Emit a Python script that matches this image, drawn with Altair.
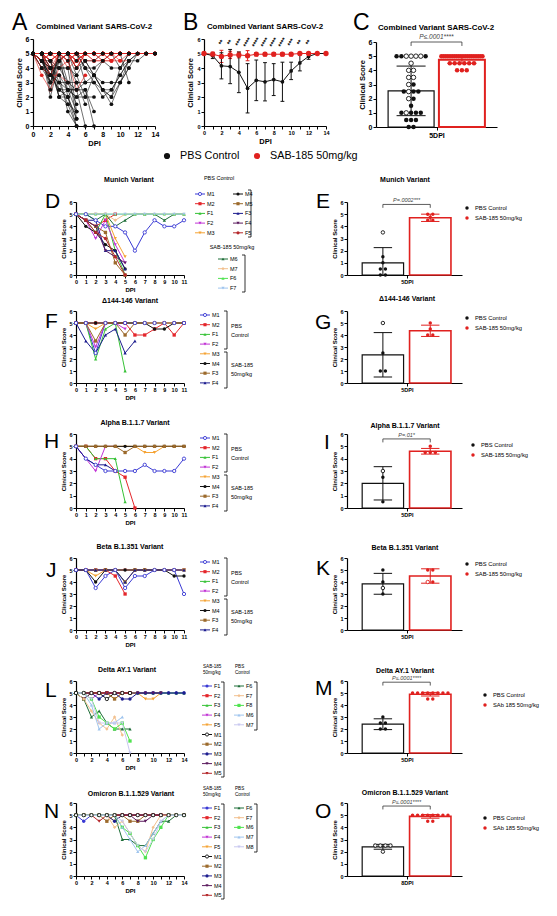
import altair as alt
import pandas as pd
from collections import Counter, defaultdict

FONT = "Liberation Sans"
W, H = 541, 900

# ---------------- colours ----------------
INK = "#111111"; RED_BAR = "#e0211f"
BLUE = "#3a3ad4"; RED = "#e4262b"; GREEN = "#36c236"; MAGENTA = "#c234d6"; ORANGE = "#f5a334"
BROWN = "#9c6a2c"; NAVY = "#1d1d8f"; DPURPLE = "#5b1b5e"; DRED = "#b5282c"
DGREEN = "#1e6e38"; TAN = "#f2c08e"; LGREEN = "#50e350"; LBLUE = "#9fc5ee"; LAVENDER = "#c8c8f0"

# ---------------- panel B: mean / SD per DPI ----------------
B_PBS_MEAN = [5, 4.85, 4.15, 4.1, 3.7, 2.6, 3.15, 3.05, 3.2, 3.05, 3.8, 4.35, 4.8, 5, 5]
B_PBS_SD = [0, 0.2, 0.9, 1.18, 1.4, 1.7, 1.4, 1.32, 1.1, 1.35, 0.6, 0.55, 0.2, 0, 0]
B_SAB_MEAN = [5, 4.95, 4.8, 4.9, 4.9, 4.85, 4.95, 4.95, 4.95, 4.95, 4.95, 5, 5, 5, 5]
B_SAB_SD = [0, 0.15, 0.42, 0.25, 0.2, 0.35, 0.12, 0.12, 0.12, 0.12, 0.12, 0, 0, 0, 0]
B_STAR_DPI = [2, 3, 4, 5, 6, 7, 8, 9, 10, 11, 12]
B_STARS = ["**", "**", "***", "****", "****", "****", "****", "****", "***", "**", "**"]

# ---------------- individual mice (clinical score per DPI) ----------------
MUNICH = {
    "M1": [5, 5, 4.5, 4, 4, 3.5, 2, 3.5, 4.5, 4, 4, 4.5],
    "M2": [5, 4.5, 4, 4.5, 5],
    "F1": [5, 4.5, 3.5, 5, 2, 0],
    "F2": [5, 4.5, 3, 4.5, 2.5, 1],
    "M3": [5, 5, 5, 5, 3, 1.5],
    "M4": [5, 4, 3.5, 2.5, 2, 0.5],
    "M5": [5, 4.5, 4, 3.5, 1, 0],
    "F3": [5, 4.5, 4.5, 2, 2, 0.5],
    "F4": [5, 4.5, 4, 2, 1.5, 1],
    "F5": [5, 4.5, 3.5, 3, 1.5, 0],
    "M6": [5, 5, 4.5, 5, 4, 4.5, 5, 5, 5, 4.5, 5, 5],
    "M7": [5, 5, 5, 5, 4.5, 5, 5, 5, 5, 5, 5, 5],
    "F6": [5, 5, 5, 5, 5, 5, 5, 5, 5, 5, 5, 5],
    "F7": [5, 5, 5, 5, 5, 5, 5, 5, 5, 5, 5, 5],
}
D144 = {
    "M1": [5, 5, 2.5, 5, 5, 5, 5, 5, 5, 5, 5, 5],
    "M2": [5, 5, 5, 5, 5, 5, 4, 4, 4.5, 5, 4, 5],
    "F1": [5, 5, 2, 4.5, 5, 1],
    "F2": [5, 5, 3, 5, 5, 4.5],
    "M3": [5, 5, 4.5, 5, 5, 5, 5, 5, 5, 5, 5, 5],
    "M4": [5, 5, 5, 5, 5, 5, 5, 5, 4.5, 4.5, 5, 5],
    "F3": [5, 5, 3.5, 5, 5, 4, 5, 5, 5, 5, 5, 5],
    "F4": [5, 3.5, 2.5, 4, 4.5, 2.5, 3.5],
}
ALPHA = {
    "M1": [5, 4, 3.5, 3, 3, 3, 3, 3.5, 3, 3, 3, 4],
    "M2": [5, 5, 4, 4, 3, 2.5, 0],
    "F1": [5, 5, 4, 4, 4, 0.5],
    "F2": [5, 4, 3, 5, 5],
    "M3": [5, 5, 5, 5, 5, 5, 5, 4.5, 4.5, 5, 5, 5],
    "M4": [5, 5, 5, 5, 5, 5, 5, 5, 5, 5, 5, 5],
    "F3": [5, 5, 5, 5, 5, 4.5, 5, 5, 5, 5, 5, 5],
    "F4": [5, 4, 3.5, 3.5, 3],
}
BETA = {
    "M1": [5, 5, 3.5, 4.5, 5, 3.5, 4.5, 4.5, 5, 5, 5, 3],
    "M2": [5, 5, 5, 5, 4.5, 3],
    "F1": [5, 5, 5, 5, 5, 4],
    "F2": [5, 5, 5, 5, 5, 5, 5, 5, 5, 5, 5, 5],
    "M3": [5, 5, 4.5, 5, 5, 5, 5, 5, 5, 5, 5, 5],
    "M4": [5, 5, 4, 5, 5, 5, 5, 5, 5, 5, 4.5, 4.5],
    "F3": [5, 5, 5, 5, 5, 4, 5, 5, 5, 5, 5, 5],
    "F4": [5, 5, 5, 5, 5, 4, 5, 5, 5, 5, 5, 5],
}
DELTA = {
    "F1": [5, 5, 5, 5, 5, 5, 5, 5, 5, 5, 5, 5, 5, 5, 5],
    "F2": [5, 5, 5, 5, 5, 5, 5, 5],
    "F3": [5, 5, 5, 5, 5, 5, 5, 5, 5, 5, 5, 5, 5, 5, 5],
    "F4": [5, 5, 4.5, 5, 5, 5, 5, 5],
    "F5": [5, 5, 5, 5, 5, 4.5, 5, 5, 5, 4.5, 4.5, 5],
    "M1": [5, 5, 5, 5, 4.5, 5, 5, 5],
    "M2": [5, 4.5, 5, 5, 5, 4.5, 5, 5],
    "M3": [5, 5, 5, 4.5, 5, 5, 4.5, 4.5, 5, 5, 5, 5, 5, 5, 5],
    "M4": [5, 4.5, 5, 5, 5, 5, 5, 5, 5, 5, 5, 5],
    "M5": [5, 5, 5, 5, 5, 5, 5, 5],
    "F6": [5, 4.5, 3, 3.5, 2.5, 2, 2, 2],
    "F7": [5, 4.5, 3.5, 2.5, 2, 3, 1.5],
    "F8": [5, 5, 4.5, 3, 2.5, 2, 2.5, 1],
    "M6": [5, 5, 4, 2, 2.5, 2.5, 3],
    "M7": [5, 5, 4.5, 2.5, 2.5, 2.5, 2.5, 0],
}
OMICRON = {
    "F1": [5, 4.5, 5, 5, 5, 5, 5, 5, 5, 5, 5, 5, 5, 5, 5],
    "F2": [5, 5, 5, 5, 5, 5, 5, 5, 5, 5, 5, 5, 5, 5, 5],
    "F3": [5, 5, 5, 5, 5, 5, 5, 5, 5, 5, 5, 5, 5, 5, 5],
    "F4": [5, 5, 5, 5, 5, 5, 5, 5, 5, 5, 5, 5, 5, 5, 5],
    "F5": [5, 5, 5, 5, 5, 4.5, 5, 5, 5, 5, 5, 5, 5, 5, 5],
    "M1": [5, 5, 5, 5, 5, 5, 5, 5, 5, 5, 5, 5, 5, 5, 5],
    "M2": [5, 5, 5, 5, 4.5, 5, 5, 4.5, 4.5, 5, 5, 5, 5, 5, 5],
    "M3": [5, 5, 5, 5, 5, 4.5, 5, 5, 5, 5, 5, 5, 5, 5, 5],
    "M4": [5, 5, 5, 5, 5, 5, 5, 5, 4.5, 4.5, 5, 5, 5, 5, 5],
    "M5": [5, 5, 5, 4.5, 5, 5, 5, 5, 5, 5, 5, 5, 5, 5, 5],
    "F6": [5, 5, 5, 5, 5, 5, 3, 3, 2.5, 2.5, 3.5, 4.5, 4.5, 5, 5],
    "F7": [5, 5, 5, 5, 5, 4, 4.5, 3.5, 2.5, 2, 4, 5, 5, 5, 5],
    "M6": [5, 5, 5, 5, 5, 5, 4, 3.5, 2.5, 1.5, 3, 4, 5, 5, 5],
    "M7": [5, 5, 5, 5, 5, 5, 4, 3, 2, 2.5, 3.5, 4.5, 5, 5, 5],
    "M8": [5, 5, 5, 5, 5, 5, 4.5, 3.5, 2.5, 2, 3, 4.5, 5, 5, 5],
}

# group membership
D_PBS = ["M1", "M2", "F1", "F2", "M3", "M4", "M5", "F3", "F4", "F5"]
D_SAB = ["M6", "M7", "F6", "F7"]
FHJ_PBS = ["M1", "M2", "F1", "F2"]
FHJ_SAB = ["M3", "M4", "F3", "F4"]
L_SAB = ["F1", "F2", "F3", "F4", "F5", "M1", "M2", "M3", "M4", "M5"]
L_PBS = ["F6", "F7", "F8", "M6", "M7"]
N_PBS = ["F6", "F7", "M6", "M7", "M8"]

# legend styling per panel
D_COLORS = [BLUE, RED, GREEN, MAGENTA, ORANGE, INK, BROWN, NAVY, DPURPLE, DRED, DGREEN, TAN, LGREEN, LBLUE]
D_SHAPES = ["circle", "square", "triangle-up", "triangle-down", "triangle-down", "circle", "square",
            "triangle-up", "triangle-down", "circle", "triangle-up", "diamond", "triangle-up", "triangle-down"]
FHJ_COLORS = [BLUE, RED, GREEN, MAGENTA, ORANGE, INK, BROWN, NAVY]
FHJ_SHAPES = ["circle", "square", "triangle-up", "triangle-down", "triangle-down", "circle", "square", "triangle-up"]
LN_COLORS = [BLUE, RED, GREEN, MAGENTA, ORANGE, INK, BROWN, NAVY, DPURPLE, DRED, DGREEN, TAN, LGREEN, LBLUE, LAVENDER]
LN_SHAPES = ["circle", "square", "triangle-up", "triangle-down", "triangle-down", "circle", "square", "circle",
             "triangle-down", "triangle-down", "triangle-up", "diamond", "square", "triangle-up", "triangle-down"]
OPEN_MICE = ["M1"]

# ---------------- bar panels (score at one DPI) ----------------
C_PBS = [5, 5, 5, 5, 5, 5, 5, 4.5, 4, 4, 3.5, 3.5, 3, 3, 2.5, 2.5, 2.5, 2.5, 2, 2, 1.5, 1, 1, 1, 1, 1, 0.5, 0.5, 0.5, 0, 0]
C_PBS_OPEN = [0, 0, 1, 1, 1, 1, 0, 1, 1, 1, 1, 1, 1, 0, 0, 1, 0, 0, 1, 0, 0, 0, 1, 0, 0, 0, 0, 0, 0, 0, 0]
C_SAB = [5] * 20 + [4.5] * 6 + [4] * 3
C_MEAN = [2.55, 4.75]; C_SD = [1.75, 0.25]

E_PBS = [3.5, 1.5, 1, 0.5, 0.5, 0, 0]; E_PBS_OPEN = [1, 0, 0, 0, 0, 0, 0]
E_SAB = [5, 5, 4.75, 4.5, 4.5]; E_MEAN = [1.0, 4.7]; E_SD = [1.25, 0.3]
G_PBS = [5, 2.5, 1, 1]; G_PBS_OPEN = [1, 0, 0, 0]
G_SAB = [5, 4.5, 4, 4]; G_MEAN = [2.35, 4.35]; G_SD = [1.85, 0.47]
I_PBS = [3, 2.5, 0.5]; I_PBS_OPEN = [1, 0, 0]
I_SAB = [5, 4.5, 4.5, 4.5]; I_MEAN = [2.0, 4.6]; I_SD = [1.35, 0.23]
K_PBS = [5, 4, 3.5, 3]; K_PBS_OPEN = [0, 0, 1, 0]
K_SAB = [5, 5, 4, 4]; K_MEAN = [3.85, 4.5]; K_SD = [0.87, 0.6]
M_PBS = [3, 2.5, 2.5, 2, 2]; M_PBS_OPEN = [0, 0, 0, 0, 0]
M_SAB = [5] * 8 + [4.5] * 2; M_MEAN = [2.4, 4.9]; M_SD = [0.45, 0.15]
O_PBS = [2.5, 2.5, 2.5, 2.5, 2]; O_PBS_OPEN = [1, 1, 1, 1, 1]
O_SAB = [5] * 8 + [4.5] * 2; O_MEAN = [2.4, 4.9]; O_SD = [0.2, 0.15]

LABELS_A = ["PBS Control", "SAB-185 50mg/kg"]
LABELS_B = ["PBS Control", "SAb 185 50mg/kg"]


# ---------------- layout helpers (page pixel -> canvas pixel) ----------------
def cx(px):
    return px - 8


def cy(py):
    return py - 8


def y_axis(box, lab, tit):
    return alt.Axis(orient="left", offset=-cx(box[0]), values=[0, 1, 2, 3, 4, 5, 6], title="Clinical Score",
                    labelFontSize=lab, titleFontSize=tit, labelFontWeight="bold", titleFontWeight="bold",
                    labelFont=FONT, titleFont=FONT, domainWidth=1.2, domainColor="black", tickColor="black",
                    tickSize=3, tickWidth=1, labelPadding=1, titlePadding=2, grid=False, labelColor="black",
                    titleColor="black", labelFlush=False, labelOverlap=False)


def x_axis(box, values, expr, ttl, lab, tit):
    kw = dict(orient="bottom", offset=-(H - cy(box[3])), values=values, labelExpr=expr, labelFontSize=lab,
              labelFontWeight="bold", labelFont=FONT, domainWidth=1.2, domainColor="black", tickColor="black",
              tickSize=3, tickWidth=1, labelPadding=1, grid=False, labelColor="black", labelAngle=0,
              labelFlush=False, labelOverlap=False)
    if ttl:
        kw.update(title=ttl, titleFontSize=tit, titleFontWeight="bold", titleFont=FONT, titlePadding=2,
                  titleColor="black")
    else:
        kw.update(title=None)
    return alt.Axis(**kw)


def note(txt, px, py, fs, weight="normal", align="left", baseline="alphabetic"):
    return alt.Chart(alt.Data(values=[{"a": 1}])).mark_text(
        text=txt, align=align, baseline=baseline, fontSize=fs, font=FONT, fontWeight=weight, color="black"
    ).encode(x=alt.value(cx(px)), y=alt.value(cy(py)))


def swarm(vals, center, step_max=0.11, maxw=0.8):
    cnt = Counter(vals); seen = defaultdict(int); out = []
    for v in vals:
        n = cnt[v]; k = seen[v]; seen[v] += 1
        step = min(step_max, maxw / max(n - 1, 1))
        out.append(center + (k - (n - 1) / 2) * step)
    return out


PIX_X = alt.Scale(domain=[0, W], range=[0, W], nice=False, zero=False)
PIX_Y = alt.Scale(domain=[0, H], range=[0, H], nice=False, zero=False)


def PX(f):
    return alt.X(f"{f}:Q", scale=PIX_X, axis=None)


def PY(f):
    return alt.Y(f"{f}:Q", scale=PIX_Y, axis=None)


def line_panel(key, series, colors, shapes, xmax, every, box):
    order = list(series.keys())
    fld = f"mouse{key}"
    rows = []
    for nm in order:
        for d, v in enumerate(series[nm]):
            rows.append({"dpi": d, "score": v, fld: nm, "op": nm in OPEN_MICE})
    df = pd.DataFrame(rows)
    XS = alt.Scale(domain=[0, xmax], range=[cx(box[0]), cx(box[1])], nice=False, zero=False)
    YS = alt.Scale(domain=[0, 6], range=[cy(box[3]), cy(box[2])], nice=False, zero=False)
    X = alt.X("dpi:Q", scale=XS,
              axis=x_axis(box, list(range(xmax + 1)), f"datum.value % {every} == 0 ? datum.label : ''", "DPI", 5.5, 6))
    Y = alt.Y("score:Q", scale=YS, axis=y_axis(box, 5.5, 6))
    C = alt.Color(f"{fld}:N", scale=alt.Scale(domain=order, range=colors), legend=None)
    S = alt.Shape(f"{fld}:N", scale=alt.Scale(domain=order, range=shapes), legend=None)
    base = alt.Chart(df)
    lines = base.mark_line(strokeWidth=1).encode(X, Y, C, order="dpi:Q")
    pf = base.transform_filter("!datum.op").mark_point(filled=True, size=11, opacity=1).encode(X, Y, C, S)
    po = base.transform_filter("datum.op").mark_point(filled=False, fill="white", size=11, strokeWidth=0.9,
                                                      opacity=1).encode(X, Y, C, S)
    return alt.layer(lines, pf, po)


def legend_panel(key, order, colors, shapes, ox, oy, entries, brackets, labels, lfs=5.5, hfs=5.5):
    fld = f"leg{key}"
    df = pd.DataFrame([{fld: n, "sx": cx(ox + sx), "tx": cx(ox + tx), "y": cy(oy + y),
                        "x0": cx(ox + sx - 5), "x1": cx(ox + sx + 5), "op": n in OPEN_MICE}
                       for n, sx, tx, y in entries])
    C = alt.Color(f"{fld}:N", scale=alt.Scale(domain=order, range=colors), legend=None)
    S = alt.Shape(f"{fld}:N", scale=alt.Scale(domain=order, range=shapes), legend=None)
    base = alt.Chart(df)
    seg = base.mark_rule(strokeWidth=1).encode(x=PX("x0"), x2="x1:Q", y=PY("y"), color=C)
    pf = base.transform_filter("!datum.op").mark_point(filled=True, size=10, opacity=1).encode(
        x=PX("sx"), y=PY("y"), color=C, shape=S)
    po = base.transform_filter("datum.op").mark_point(filled=False, fill="white", size=10, strokeWidth=0.9,
                                                      opacity=1).encode(x=PX("sx"), y=PY("y"), color=C, shape=S)
    txt = base.mark_text(align="left", baseline="middle", fontSize=lfs, font=FONT, color="black").encode(
        x=PX("tx"), y=PY("y"), text=f"{fld}:N")
    segs = []
    for bx, y0, y1 in brackets:
        segs.append({"bx0": cx(ox + bx), "bx1": cx(ox + bx), "by0": cy(oy + y0), "by1": cy(oy + y1)})
        segs.append({"bx0": cx(ox + bx - 3), "bx1": cx(ox + bx), "by0": cy(oy + y0), "by1": cy(oy + y0)})
        segs.append({"bx0": cx(ox + bx - 3), "bx1": cx(ox + bx), "by0": cy(oy + y1), "by1": cy(oy + y1)})
    br = alt.Chart(pd.DataFrame(segs)).mark_rule(color="black", strokeWidth=0.8).encode(
        x=PX("bx0"), x2="bx1:Q", y=PY("by0"), y2="by1:Q")
    lab_df = pd.DataFrame([{"t": t, "lx": cx(ox + x), "ly": cy(oy + y), "al": a} for t, x, y, a in labels])
    labs_left = alt.Chart(lab_df).transform_filter("datum.al == 'left'").mark_text(
        align="left", baseline="middle", fontSize=hfs, font=FONT, color="black").encode(
        x=PX("lx"), y=PY("ly"), text="t:N")
    labs_mid = alt.Chart(lab_df).transform_filter("datum.al == 'center'").mark_text(
        align="center", baseline="middle", fontSize=hfs, font=FONT, color="black").encode(
        x=PX("lx"), y=PY("ly"), text="t:N")
    return alt.layer(seg, pf, po, txt, br, labs_left, labs_mid)


def group_legend(key, labels, px, py, dy, tdx, fs, size, horizontal=False, gap=0):
    """Black / red dot legend drawn as marks (dot centre at page px, py)."""
    fld = f"gl{key}"
    rows = []
    for i, lb in enumerate(labels):
        if horizontal:
            sx = px + i * gap; sy = py
        else:
            sx = px; sy = py + i * dy
        rows.append({fld: lb, "sx": cx(sx), "sy": cy(sy), "tx": cx(sx + tdx)})
    df = pd.DataFrame(rows)
    C = alt.Color(f"{fld}:N", scale=alt.Scale(domain=labels, range=[INK, RED_BAR]), legend=None)
    dots = alt.Chart(df).mark_circle(size=size, opacity=1).encode(x=PX("sx"), y=PY("sy"), color=C)
    txt = alt.Chart(df).mark_text(align="left", baseline="middle", fontSize=fs, font=FONT, color="black").encode(
        x=PX("tx"), y=PY("sy"), text=f"{fld}:N")
    return alt.layer(dots, txt)


def bar_panel(key, pbs, pbs_open, sab, sab_open, mean, sd, pval, brk_y, dpi_label, labels, box,
              centers=(0.78, 1.81), hw=0.45, tick=1.3, cap=0.2,
              psize=12, lab=5.5, tit=6, pfs=5.5, sw=(1.2, 1.6), step=0.11):
    g = f"grp{key}"
    GS = alt.Scale(domain=labels, range=[INK, RED_BAR])
    XS = alt.Scale(domain=[0, 2.5], range=[cx(box[0]), cx(box[1])], nice=False, zero=False)
    YS = alt.Scale(domain=[0, 6], range=[cy(box[3]), cy(box[2])], nice=False, zero=False)
    XA = x_axis(box, [tick], f"'{dpi_label}'", None, lab, tit)
    YA = y_axis(box, lab, tit)

    def X(f):
        return alt.X(f"{f}:Q", scale=XS, axis=XA)

    def Y(f):
        return alt.Y(f"{f}:Q", scale=YS, axis=YA)

    stroke = alt.Stroke(f"{g}:N", scale=GS, legend=None)
    bars = pd.DataFrame({g: labels, "x0": [c - hw for c in centers], "x1": [c + hw for c in centers],
                         "mean": mean, "base": [0, 0]})
    err = pd.DataFrame({g: labels, "xc": list(centers), "lo": [max(0, m - s) for m, s in zip(mean, sd)],
                        "hi": [m + s for m, s in zip(mean, sd)]})
    caps = []
    for lb, c, m, s in zip(labels, centers, mean, sd):
        caps.append({g: lb, "cx0": c - cap, "cx1": c + cap, "cy": m + s})
        if m - s > 0:
            caps.append({g: lb, "cx0": c - cap, "cx1": c + cap, "cy": m - s})
    caps = pd.DataFrame(caps)
    pts = []
    for lb, c, vals, opn in ((labels[0], centers[0], pbs, pbs_open), (labels[1], centers[1], sab, sab_open)):
        for xp, v, o in zip(swarm(vals, c, step, 2 * hw - 0.1), vals, opn):
            pts.append({g: lb, "xp": xp, "val": v, "op": bool(o)})
    pts = pd.DataFrame(pts)
    bar = alt.Chart(bars).mark_bar(fill="white").encode(
        x=X("x0"), x2="x1:Q", y=Y("mean"), y2="base:Q", stroke=stroke,
        strokeWidth=alt.StrokeWidth(f"{g}:N", scale=alt.Scale(domain=labels, range=list(sw)), legend=None))
    ev = alt.Chart(err).mark_rule(strokeWidth=1).encode(x=X("xc"), y=Y("lo"), y2="hi:Q", stroke=stroke)
    cp = alt.Chart(caps).mark_rule(strokeWidth=1).encode(x=X("cx0"), x2="cx1:Q", y=Y("cy"), stroke=stroke)
    pf = alt.Chart(pts).transform_filter("!datum.op").mark_circle(size=psize, opacity=1).encode(
        x=X("xp"), y=Y("val"), color=alt.Color(f"{g}:N", scale=GS, legend=None))
    po = alt.Chart(pts).transform_filter("datum.op").mark_point(shape="circle", filled=False, fill="white",
                                                                size=psize, strokeWidth=0.9, opacity=1).encode(
        x=X("xp"), y=Y("val"), stroke=stroke)
    layers = [bar, ev, cp, pf, po]
    if pval:
        c1, c2 = centers
        brk = pd.DataFrame([{"bx0": c1, "bx1": c2, "by0": brk_y, "by1": brk_y},
                            {"bx0": c1, "bx1": c1, "by0": brk_y - 0.28, "by1": brk_y},
                            {"bx0": c2, "bx1": c2, "by0": brk_y - 0.28, "by1": brk_y}])
        layers.append(alt.Chart(brk).mark_rule(color="#333333", strokeWidth=0.8).encode(
            x=X("bx0"), x2="bx1:Q", y=Y("by0"), y2="by1:Q"))
        ptx = pd.DataFrame([{"px": (c1 + c2) / 2, "py": brk_y + 0.35, "t": pval}])
        layers.append(alt.Chart(ptx).mark_text(fontSize=pfs, fontStyle="italic", font=FONT,
                                               color="#444444").encode(x=X("px"), y=Y("py"), text="t:N"))
    return alt.layer(*layers)


# ---------------- panel boxes (page px: left, right, top, bottom) ----------------
BOX_A = (33, 155, 39, 126)
BOX_B = (204, 326, 39, 126)
BOX_C = (376, 497, 42, 127)
ROW_TOPS = [202, 311, 434, 558, 681, 803]
ROW_H = [73, 72, 74, 72, 72, 73]
LINE_X = (76, 184)
BAR_X = (347, 462)


def lbox(i):
    return (LINE_X[0], LINE_X[1], ROW_TOPS[i], ROW_TOPS[i] + ROW_H[i])


def bbox(i):
    return (BAR_X[0], BAR_X[1], ROW_TOPS[i], ROW_TOPS[i] + ROW_H[i])


layers = []

# ---------------- panel A ----------------
A_SOURCES = [("D", MUNICH, D_PBS), ("F", D144, FHJ_PBS), ("H", ALPHA, FHJ_PBS), ("J", BETA, FHJ_PBS),
             ("L", DELTA, L_PBS), ("N", OMICRON, N_PBS)]
a_rows = []
for k, ser, pbs_list in A_SOURCES:
    for nm, vals in ser.items():
        for d, v in enumerate(vals):
            a_rows.append({"uid": f"{k}-{nm}", "grpA": "PBS" if nm in pbs_list else "SAB", "dpi": d, "score": v})
a_df = pd.DataFrame(a_rows)
AXS = alt.Scale(domain=[0, 14], range=[cx(BOX_A[0]), cx(BOX_A[1])], nice=False, zero=False)
AYS = alt.Scale(domain=[0, 6], range=[cy(BOX_A[3]), cy(BOX_A[2])], nice=False, zero=False)
AX = alt.X("dpi:Q", scale=AXS, axis=x_axis(BOX_A, list(range(15)), "datum.value % 2 == 0 ? datum.label : ''",
                                            "DPI", 7, 7.5))
AY = alt.Y("score:Q", scale=AYS, axis=y_axis(BOX_A, 7, 7.5))
a_base = alt.Chart(a_df)
layers.append(alt.layer(
    a_base.transform_filter("datum.grpA == 'PBS'").mark_line(strokeWidth=0.6, color=INK).encode(
        AX, AY, detail="uid:N", order="dpi:Q"),
    a_base.transform_filter("datum.grpA == 'SAB'").mark_line(strokeWidth=0.6, color=RED_BAR).encode(
        AX, AY, detail="uid:N", order="dpi:Q"),
    a_base.transform_filter("datum.grpA == 'SAB'").mark_circle(size=14, color=RED_BAR, opacity=1).encode(AX, AY),
    a_base.transform_filter("datum.grpA == 'PBS'").mark_circle(size=14, color=INK, opacity=1).encode(AX, AY),
))

# ---------------- panel B ----------------
b_rows = []
for lb, ms, sds in ((LABELS_A[0], B_PBS_MEAN, B_PBS_SD), (LABELS_A[1], B_SAB_MEAN, B_SAB_SD)):
    for d, (m, s) in enumerate(zip(ms, sds)):
        b_rows.append({"grpB": lb, "dpi": d, "mean": m, "sd": s, "lo": m - s, "hi": m + s,
                       "cx0": d - 0.22, "cx1": d + 0.22})
b_df = pd.DataFrame(b_rows)
BGS = alt.Scale(domain=LABELS_A, range=[INK, RED_BAR])
BXS = alt.Scale(domain=[0, 14], range=[cx(BOX_B[0]), cx(BOX_B[1])], nice=False, zero=False)
BYS = alt.Scale(domain=[0, 6], range=[cy(BOX_B[3]), cy(BOX_B[2])], nice=False, zero=False)
BXA = x_axis(BOX_B, list(range(15)), "datum.value % 2 == 0 ? datum.label : ''", "DPI", 5.5, 7.5)
BYA = y_axis(BOX_B, 5.5, 7.5)


def BX(f):
    return alt.X(f"{f}:Q", scale=BXS, axis=BXA)


def BY(f):
    return alt.Y(f"{f}:Q", scale=BYS, axis=BYA)


bstroke = alt.Stroke("grpB:N", scale=BGS, legend=None)
b_base = alt.Chart(b_df)
b_layers = []
for lb in (LABELS_A[1], LABELS_A[0]):
    sub = b_base.transform_filter(alt.datum.grpB == lb)
    b_layers.append(sub.transform_filter("datum.sd > 0").mark_rule(strokeWidth=1).encode(
        x=BX("dpi"), y=BY("lo"), y2="hi:Q", stroke=bstroke))
    b_layers.append(sub.transform_filter("datum.sd > 0").mark_rule(strokeWidth=1).encode(
        x=BX("cx0"), x2="cx1:Q", y=BY("hi"), stroke=bstroke))
    b_layers.append(sub.transform_filter("datum.sd > 0").mark_rule(strokeWidth=1).encode(
        x=BX("cx0"), x2="cx1:Q", y=BY("lo"), stroke=bstroke))
    b_layers.append(sub.mark_line(strokeWidth=1).encode(x=BX("dpi"), y=BY("mean"), stroke=bstroke, order="dpi:Q"))
b_layers.append(b_base.transform_filter(alt.datum.grpB == LABELS_A[0]).mark_circle(size=14, opacity=1).encode(
    x=BX("dpi"), y=BY("mean"), color=alt.Color("grpB:N", scale=BGS, legend=None)))
b_layers.append(b_base.transform_filter(alt.datum.grpB == LABELS_A[1]).mark_circle(size=28, opacity=1).encode(
    x=BX("dpi"), y=BY("mean"), color=alt.Color("grpB:N", scale=BGS, legend=None)))
star_df = pd.DataFrame({"dpi": B_STAR_DPI, "t": B_STARS, "sy": [5.75] * len(B_STARS)})
b_layers.append(alt.Chart(star_df).mark_text(fontSize=6.5, fontWeight="bold", angle=300, font=FONT,
                                              color="black").encode(x=BX("dpi"), y=BY("sy"), text="t:N"))
layers.append(alt.layer(*b_layers))

# shared legend under row 1
layers.append(group_legend("top", LABELS_A, 167, 156, 0, 13, 10.8, 38, horizontal=True, gap=90))

# ---------------- panel C ----------------
layers.append(bar_panel("C", C_PBS, C_PBS_OPEN, C_SAB, [0] * len(C_SAB), C_MEAN, C_SD, "P\u2264.0001****", 6.0,
                        "5DPI", LABELS_A, BOX_C, centers=(0.725, 1.775), hw=0.475, tick=1.25,
                        cap=0.3, psize=20, lab=7, tit=7.5, pfs=6.5, sw=(1.2, 2.0), step=0.1))

# ---------------- line panels and their legends ----------------
layers.append(line_panel("D", MUNICH, D_COLORS, D_SHAPES, 11, 1, lbox(0)))
layers.append(line_panel("F", D144, FHJ_COLORS, FHJ_SHAPES, 11, 1, lbox(1)))
layers.append(line_panel("H", ALPHA, FHJ_COLORS, FHJ_SHAPES, 11, 1, lbox(2)))
layers.append(line_panel("J", BETA, FHJ_COLORS, FHJ_SHAPES, 11, 1, lbox(3)))
layers.append(line_panel("L", DELTA, LN_COLORS, LN_SHAPES, 14, 2, lbox(4)))
layers.append(line_panel("N", OMICRON, LN_COLORS, LN_SHAPES, 14, 2, lbox(5)))

LEG_X = 193
d_entries = [(n, 7, 14, -8 + 9.7 * i) for i, n in enumerate(D_PBS[:5])]
d_entries += [(n, 45, 52, -8 + 9.7 * i) for i, n in enumerate(D_PBS[5:])]
d_entries += [(n, 30, 37, 57 + 9.7 * i) for i, n in enumerate(D_SAB)]
layers.append(legend_panel("D", list(MUNICH.keys()), D_COLORS, D_SHAPES, LEG_X, ROW_TOPS[0], d_entries,
                           [(58, -12, 35), (52, 53, 90)],
                           [("PBS Control", 26, -24, "center"), ("SAB-185 50mg/kg", 39, 45, "center")]))
for key, ser, i in (("F", D144, 1), ("H", ALPHA, 2), ("J", BETA, 3)):
    order = list(ser.keys())
    ents = [(n, 12, 19, 4 + 9.7 * j) for j, n in enumerate(order)]
    layers.append(legend_panel(key, order, FHJ_COLORS, FHJ_SHAPES, LEG_X, ROW_TOPS[i], ents,
                               [(34, 0, 38), (34, 41, 77)],
                               [("PBS", 38, 15, "left"), ("Control", 38, 24, "left"),
                                ("SAB-185", 38, 54, "left"), ("50mg/kg", 38, 63, "left")]))
for key, ser, pbs_list, i in (("L", DELTA, L_PBS, 4), ("N", OMICRON, N_PBS, 5)):
    order = list(ser.keys())
    ents = [(n, 14, 21, 5 + 9.7 * j) for j, n in enumerate(L_SAB)]
    ents += [(n, 46, 53, 5 + 9.7 * j) for j, n in enumerate(pbs_list)]
    layers.append(legend_panel(key, order, LN_COLORS, LN_SHAPES, LEG_X, ROW_TOPS[i], ents,
                               [(31, 1, 96), (64, 1, 49)],
                               [("SAB-185", 10, -14, "left"), ("50mg/kg", 10, -8.5, "left"),
                                ("PBS", 42, -14, "left"), ("Control", 42, -8.5, "left")], hfs=4.6))

# ---------------- bar panels ----------------
layers.append(bar_panel("E", E_PBS, E_PBS_OPEN, E_SAB, [0] * 5, E_MEAN, E_SD, "P=.0002***", 5.8, "5DPI",
                        LABELS_A, bbox(0)))
layers.append(bar_panel("G", G_PBS, G_PBS_OPEN, G_SAB, [0] * 4, G_MEAN, G_SD, None, 0, "5DPI",
                        LABELS_A, bbox(1)))
layers.append(bar_panel("I", I_PBS, I_PBS_OPEN, I_SAB, [0] * 4, I_MEAN, I_SD, "P=.01*", 5.6, "5DPI",
                        LABELS_A, bbox(2)))
layers.append(bar_panel("K", K_PBS, K_PBS_OPEN, K_SAB, [0, 0, 1, 0], K_MEAN, K_SD, None, 0, "5DPI",
                        LABELS_A, bbox(3)))
layers.append(bar_panel("M", M_PBS, M_PBS_OPEN, M_SAB, [0] * 10, M_MEAN, M_SD, "P\u2264.0001****", 5.9, "5DPI",
                        LABELS_B, bbox(4)))
layers.append(bar_panel("O", O_PBS, O_PBS_OPEN, O_SAB, [0] * 10, O_MEAN, O_SD, "P\u2264.0001****", 5.75, "8DPI",
                        LABELS_B, bbox(5)))

# bar-panel legends (dot centre page x, first-row page y)
BAR_LEGENDS = [("E", LABELS_A, 467, 208), ("G", LABELS_A, 467, 318), ("I", LABELS_A, 473, 445),
               ("K", LABELS_A, 467, 564), ("M", LABELS_B, 485, 695), ("O", LABELS_B, 485, 818)]
for key, lbs, lx, ly in BAR_LEGENDS:
    layers.append(group_legend(key, lbs, lx, ly, 10, 8, 5.8, 12))

# ---------------- titles and panel letters ----------------
TITLES = [
    ("Combined Variant SARS-CoV-2", 94, 27, 7.9), ("Combined Variant SARS-CoV-2", 265, 27, 7.9),
    ("Combined Variant SARS-CoV-2", 436, 28, 7.9),
    ("Munich Variant", 129, 180, 7), ("Munich Variant", 405, 180, 7),
    ("\u0394144-146 Variant", 130, 301, 7), ("\u0394144-146 Variant", 407, 299, 7),
    ("Alpha B.1.1.7 Variant", 135, 423, 7), ("Alpha B.1.1.7 Variant", 405, 426, 7),
    ("Beta B.1.351 Variant", 130, 547, 7), ("Beta B.1.351 Variant", 405, 548, 7),
    ("Delta AY.1 Variant", 127, 670, 7), ("Delta AY.1 Variant", 405, 671, 7),
    ("Omicron B.1.1.529 Variant", 131, 794, 7), ("Omicron B.1.1.529 Variant", 405, 793, 7),
]
LETTERS = [
    ("A", 12, 30, 23), ("B", 183, 30, 23), ("C", 353, 30, 23),
    ("D", 45, 208, 21), ("E", 316, 208, 21), ("F", 45, 328, 21), ("G", 315, 329, 21),
    ("H", 44, 448, 21), ("I", 324, 449, 21), ("J", 46, 577, 21), ("K", 316, 575, 21),
    ("L", 45, 697, 21), ("M", 315, 695, 21), ("N", 44, 818, 21), ("O", 315, 818, 21),
]
for t, x, y, fs in TITLES:
    layers.append(note(t, x, y, fs, weight="bold", align="center", baseline="middle"))
for t, x, y, fs in LETTERS:
    layers.append(note(t, x, y, fs))

chart = alt.layer(*layers).resolve_scale(
    x="independent", y="independent", color="independent", stroke="independent", shape="independent",
    strokeWidth="independent"
).properties(
    width=W, height=H, padding=0, background="white"
).configure_view(stroke=None).configure_axis(labelFont=FONT, titleFont=FONT)

chart.save("out.html", embed_options={"renderer": "svg", "actions": False})
